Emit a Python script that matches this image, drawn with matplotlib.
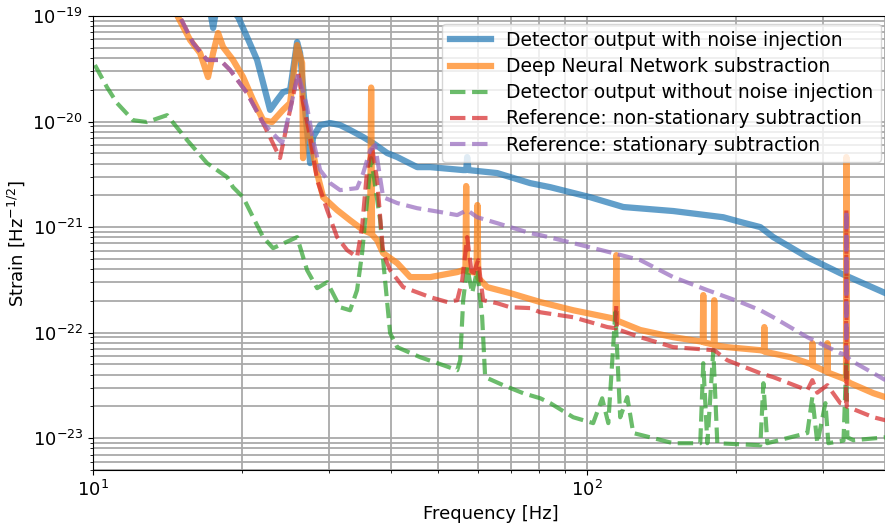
import matplotlib
matplotlib.use("Agg")
import matplotlib.pyplot as plt

# ---------------- data ----------------
freq_blue = [14.0, 17.0, 17.3, 17.5, 17.7, 18.5, 19.66, 20.50, 21.48, 22.09, 22.82, 23.58,
             24.24, 25.05, 25.88, 26.24, 26.86, 27.50, 27.88, 28.81, 30.19, 31.62, 33.13,
             35.21, 36.88, 39.37, 41.26, 45.29, 48.11, 56.10, 56.9, 57.16, 57.5, 65.74,
             76.67, 84.16, 101.4, 118.3, 149.3, 188.5, 204.0, 224.0, 237.9, 278.8, 325.1,
             401.1]
strain_blue = [3e-19, 1.3e-19, 1.05e-19, 7.7e-20, 1.05e-19, 1.4e-19, 9.78e-20, 6.32e-20,
               3.83e-20, 2.32e-20, 1.29e-20, 1.60e-20, 1.90e-20, 1.99e-20, 5.67e-20, 4.46e-20,
               1.29e-20, 4.04e-21, 7.13e-21, 9.26e-21, 9.68e-21, 9.26e-21, 8.31e-21, 7.13e-21,
               6.25e-21, 5.03e-21, 4.61e-21, 3.70e-21, 3.70e-21, 3.47e-21, 3.47e-21, 4.61e-21,
               3.47e-21, 3.25e-21, 2.61e-21, 2.39e-21, 1.92e-21, 1.55e-21, 1.42e-21, 1.24e-21,
               1.12e-21, 1.00e-21, 8.04e-22, 5.20e-22, 3.66e-22, 2.37e-22]

freq_dnn = [13.5, 14.86, 15.72, 16.47, 17.09, 17.50, 17.91, 18.33, 19.20, 20.12, 21.08, 22.09,
            23.03, 24.24, 25.05, 25.88, 26.49, 26.61, 26.75, 27.24, 28.41, 29.22, 31.18, 33.13,
            35.21, 36.37, 36.54, 36.70, 37.57, 38.64, 41.26, 43.83, 48.11, 54.57, 56.10, 56.7,
            56.89, 57.1, 59.7, 59.95, 60.2, 62.74, 69.84, 80.35, 93.69, 109.8, 114.1, 114.5,
            114.9, 128.0, 149.3, 171.3, 171.7, 172.1, 180.3, 180.7, 181.1, 192.0, 224.0, 227.8,
            228.2, 228.6, 257.6, 285.0, 285.4, 285.8, 300.4, 305.7, 306.1, 306.5, 333.9, 334.4,
            334.9, 340.8, 379.3, 401.1]
strain_dnn = [3e-19, 9.78e-20, 5.92e-20, 4.46e-20, 2.64e-20, 4.46e-20, 6.90e-20, 5.08e-20,
              3.83e-20, 2.64e-20, 1.60e-20, 1.03e-20, 9.89e-21, 1.29e-20, 1.50e-20, 5.31e-20,
              3.58e-20, 4.5e-21, 9.0e-21, 8.87e-21, 3.25e-21, 1.92e-21, 1.45e-21, 1.16e-21,
              9.37e-22, 8.77e-22, 2.1e-20, 8.5e-22, 7.53e-22, 5.67e-22, 4.56e-22, 3.36e-22,
              3.36e-22, 3.75e-22, 3.91e-22, 3.9e-22, 2.45e-21, 3.8e-22, 3.7e-22, 1.62e-21,
              3.3e-22, 2.70e-22, 2.37e-22, 1.95e-22, 1.63e-22, 1.40e-22, 1.35e-22, 5.43e-22,
              1.3e-22, 1.06e-22, 9.06e-23, 8.2e-23, 2.27e-22, 8.1e-23, 7.7e-23, 2.03e-22,
              7.6e-23, 7.29e-23, 6.82e-23, 6.7e-23, 1.13e-22, 6.6e-23, 5.86e-23, 5.0e-23,
              7.95e-23, 4.9e-23, 4.41e-23, 4.3e-23, 7.95e-23, 4.2e-23, 3.6e-23, 4.61e-21,
              3.5e-23, 3.32e-23, 2.67e-23, 2.45e-23]

freq_quiet = [10.09, 10.67, 11.18, 12.05, 12.86, 14.12, 15.50, 17.01, 18.67, 19.20, 20.12,
              21.08, 22.09, 23.14, 25.88, 27.11, 28.41, 29.77, 31.62, 33.13, 34.22, 35.03,
              36.54, 38.11, 38.64, 39.92, 41.26, 45.90, 51.14, 54.57, 55.33, 56.10, 57.16,
              58.50, 59.88, 61.29, 62.15, 67.61, 74.20, 80.35, 84.16, 93.69, 102.8, 107.2,
              110.3, 114.0, 116.6, 120.5, 123.9, 149.3, 169.3, 171.7, 175.0, 179.9, 183.3,
              224.0, 227.2, 231.4, 278.8, 285.4, 292.1, 303.3, 307.5, 330.0, 334.4, 336.0,
              345.6, 401.1]
strain_quiet = [3.43e-20, 2.12e-20, 1.50e-20, 1.03e-20, 9.89e-21, 1.15e-20, 6.68e-21, 4.04e-21,
                2.98e-21, 2.39e-21, 1.92e-21, 1.24e-21, 8.04e-22, 6.32e-22, 8.04e-22, 3.91e-22,
                2.64e-22, 3.01e-22, 1.74e-22, 1.63e-22, 2.53e-22, 5.67e-22, 4.5e-21, 1.16e-21,
                4.87e-22, 9.89e-23, 7.29e-23, 5.86e-23, 4.92e-23, 4.41e-23, 5.48e-23, 2.03e-22,
                4.18e-22, 2.37e-22, 3.91e-22, 1.40e-22, 3.79e-23, 3.18e-23, 2.67e-23, 2.39e-23,
                2.15e-23, 1.58e-23, 1.39e-23, 2.39e-23, 1.39e-23, 1.56e-22, 1.58e-23, 2.45e-23,
                1.12e-23, 8.97e-24, 8.97e-24, 5.14e-23, 8.97e-24, 6.82e-23, 8.97e-24, 8.58e-24,
                3.32e-23, 8.97e-24, 1.12e-23, 2.45e-23, 8.97e-24, 2.15e-23, 8.97e-24, 9.5e-24,
                5.5e-23, 1.02e-23, 9.57e-24, 1.02e-23]

freq_nonstat = [13.5, 15.00, 15.94, 17.01, 18.08, 18.94, 20.50, 22.09, 23.90, 25.05, 26.00,
                26.61, 27.50, 28.41, 29.77, 31.18, 32.67, 34.22, 35.03, 35.86, 36.70, 37.57,
                38.64, 39.92, 42.42, 48.11, 52.10, 54.57, 55.85, 57.16, 58.50, 60.16, 61.57,
                65.74, 69.84, 76.67, 80.35, 93.69, 109.8, 114.1, 114.5, 114.9, 128.0, 149.3,
                180.7, 192.0, 224.0, 237.9, 278.8, 285.4, 292.0, 306.1, 325.1, 333.9, 334.4,
                334.9, 379.3, 401.1]
strain_nonstat = [3e-19, 9.78e-20, 5.55e-20, 3.83e-20, 3.83e-20, 3.08e-20, 1.86e-20, 9.68e-21,
                  4.51e-21, 1.29e-20, 2.88e-20, 1.50e-20, 7.13e-21, 2.79e-21, 1.45e-21, 8.04e-22,
                  6.05e-22, 5.20e-22, 1.00e-21, 3.47e-21, 5.73e-21, 2.79e-21, 5.67e-22, 3.91e-22,
                  2.70e-22, 2.17e-22, 1.95e-22, 2.03e-22, 3.14e-22, 8.04e-22, 3.36e-22, 4.87e-22,
                  2.03e-22, 1.90e-22, 1.74e-22, 1.71e-22, 1.56e-22, 1.40e-22, 1.13e-22, 1.1e-22,
                  1.82e-22, 1.08e-22, 9.06e-23, 7.29e-23, 6.82e-23, 5.48e-23, 4.13e-23, 3.79e-23,
                  2.85e-23, 3.55e-23, 2.7e-23, 3.18e-23, 2.15e-23, 2.1e-23, 1.45e-21, 2.0e-23,
                  1.58e-23, 1.48e-23]

freq_stat = [13.5, 15.00, 15.94, 17.01, 18.08, 18.94, 20.50, 22.09, 24.13, 25.05, 26.00, 27.11,
             27.88, 28.81, 30.19, 31.62, 34.22, 35.21, 36.37, 37.22, 38.64, 41.26, 45.29, 50.42,
             54.57, 57.16, 59.88, 65.74, 76.67, 80.35, 93.69, 112.9, 128.0, 149.3, 175.0, 204.0,
             224.0, 237.9, 278.8, 325.1, 333.9, 334.4, 334.9, 340.8, 379.3, 401.1]
strain_stat = [3e-19, 9.78e-20, 5.55e-20, 3.83e-20, 3.83e-20, 3.08e-20, 1.86e-20, 9.68e-21,
               6.25e-21, 1.29e-20, 2.88e-20, 1.37e-20, 6.68e-21, 3.47e-21, 2.61e-21, 2.24e-21,
               2.34e-21, 3.25e-21, 5.37e-21, 5.99e-21, 1.92e-21, 1.69e-21, 1.51e-21, 1.39e-21,
               1.30e-21, 1.45e-21, 1.24e-21, 1.09e-21, 8.77e-22, 8.40e-22, 7.05e-22, 5.67e-22,
               4.87e-22, 3.36e-22, 2.53e-22, 1.95e-22, 1.63e-22, 1.40e-22, 9.06e-23, 6.39e-23,
               6.2e-23, 1.45e-21, 6.0e-23, 5.48e-23, 4.13e-23, 3.55e-23]

labels = ["Detector output with noise injection",
          "Deep Neural Network substraction",
          "Detector output without noise injection",
          "Reference: non-stationary subtraction",
          "Reference: stationary subtraction"]

y_major_ticks = [1e-23, 1e-22, 1e-21, 1e-20, 1e-19]
x_major_ticks = [10, 100]

# ---------------- figure ----------------
plt.rcParams['font.family'] = ['DejaVu Sans']
plt.rcParams['font.size'] = 13

fig = plt.figure(figsize=(8.85, 5.23), dpi=100)
ax = fig.add_axes([93 / 885, 53 / 523, 795 / 885, 454 / 523])

ax.plot(freq_blue, strain_blue, color='tab:blue', alpha=0.7, lw=4.5, label=labels[0])
ax.plot(freq_dnn, strain_dnn, color='tab:orange', alpha=0.7, lw=4.5, label=labels[1])
ax.plot(freq_quiet, strain_quiet, color='tab:green', alpha=0.7, lw=3, ls='--', label=labels[2])
ax.plot(freq_nonstat, strain_nonstat, color='tab:red', alpha=0.7, lw=3, ls='--', label=labels[3])
ax.plot(freq_stat, strain_stat, color='tab:purple', alpha=0.7, lw=3, ls='--', label=labels[4])

ax.set_xscale('log')
ax.set_yscale('log')
ax.set_yticks(y_major_ticks)
ax.set_xticks(x_major_ticks)
ax.set_xlim(10, 406)
ax.set_ylim(5e-24, 1e-19)
ax.grid(True, which='both', color='#a9a9a9', lw=1.3)
ax.set_axisbelow(True)
ax.set_xlabel('Frequency [Hz]')
ax.set_ylabel(r'Strain [Hz$^{-1/2}$]')
ax.legend(loc='upper right', handlelength=2.2, fontsize=13.5, borderaxespad=0.4,
          labelspacing=0.38)

fig.savefig('out.png', dpi=100)
